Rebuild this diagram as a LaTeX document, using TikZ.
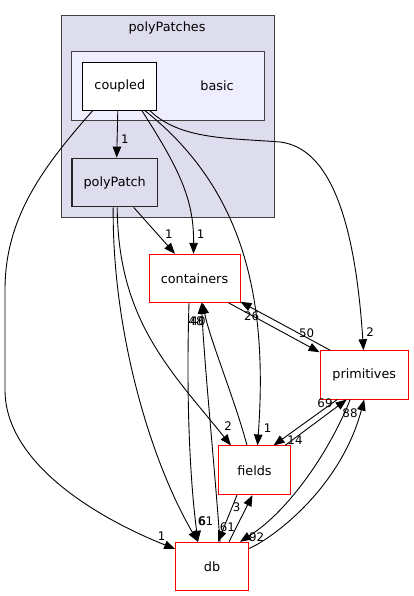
\documentclass[tikz,border=0pt]{standalone}
\usepackage{fontspec}
\setmainfont{DejaVu Sans}
\usetikzlibrary{arrows.meta}
\definecolor{clusterbg}{HTML}{DDDDEE}
\definecolor{basicbg}{HTML}{EEEEFF}
\definecolor{clusterline}{HTML}{404040}
\tikzset{
  nodefont/.style={font=\fontsize{12.8}{14}\selectfont},
  lblfont/.style={font=\fontsize{11.8}{13}\selectfont, inner sep=0pt},
  dirbox/.style={draw, rectangle, inner sep=0pt, nodefont, line width=1pt},
  extbox/.style={dirbox, draw=red, fill=white},
  edge/.style={draw=black, line width=0.9pt, -{Triangle[length=11pt,width=8.5pt]}},
  cluster/.style={draw=clusterline, line width=1pt},
}
\begin{document}
\begin{tikzpicture}[x=1pt,y=-1pt]
\useasboundingbox (0,0) rectangle (413,596);
% clusters
\draw[cluster, fill=clusterbg] (61,16) rectangle (274,217);
\node[nodefont] (lblpp) at (167,27.5) {polyPatches};
\draw[cluster, fill=basicbg] (71.7,51.7) rectangle (264,121);
\node[nodefont] (lblbasic) at (217,85.7) {basic};
% nodes
\node[dirbox, fill=white, draw=black, minimum width=73.7pt, minimum height=47.7pt] (coupled) at (119.8,86.2) {coupled};
\node[dirbox, fill=clusterbg, draw=black!85, line width=1.4pt, minimum width=85.3pt, minimum height=48.4pt] (polyPatch) at (114.7,182.5) {polyPatch};
\node[extbox, minimum width=91pt, minimum height=48pt] (containers) at (194.5,278.3) {containers};
\node[extbox, minimum width=88.3pt, minimum height=48.3pt] (primitives) at (364.2,374.9) {primitives};
\node[extbox, minimum width=72.4pt, minimum height=48.7pt] (fields) at (254.5,470.3) {fields};
\node[extbox, minimum width=72.6pt, minimum height=48.4pt] (db) at (212,566.5) {db};
% edges
\draw[edge] ([xshift=-2pt]coupled.south) -- ([xshift=2pt]polyPatch.north);
\draw[edge] ([xshift=-27pt]coupled.south) .. controls (40,170) and (5,220) .. (5,290) -- (5,390) .. controls (5,460) and (90,515) .. ([yshift=17.5pt]db.west);
\draw[edge] ([xshift=22pt]coupled.south) .. controls (180,170) and (194,200) .. ([xshift=-1pt]containers.north);
\draw[edge] ([xshift=25pt]coupled.south) .. controls (245,190) and (268,300) .. ([xshift=3pt]fields.north);
\draw[edge] ([xshift=30pt]coupled.south) .. controls (180,140) and (230,138) .. (280,142) .. controls (330,148) and (355,220) .. ([xshift=-0.7pt]primitives.north);
\draw[edge] ([xshift=19pt]polyPatch.south) -- ([xshift=-19.5pt]containers.north);
\draw[edge] ([xshift=-1.5pt]polyPatch.south) .. controls (112,330) and (150,460) .. ([xshift=-14pt]db.north);
\draw[edge] ([xshift=2.5pt]polyPatch.south) .. controls (118,320) and (170,370) .. ([xshift=-23.5pt]fields.north);
\draw[edge] ([xshift=-5.5pt]containers.south) .. controls (186,400) and (190,480) .. ([xshift=-14pt]db.north);
\draw[edge] ([xshift=8pt]db.north) .. controls (214,460) and (204,360) .. ([xshift=7pt]containers.south);
\draw[edge] ([xshift=-7.5pt]fields.north) .. controls (235,400) and (210,340) .. ([xshift=8pt]containers.south);
\draw[edge] ([xshift=34pt]containers.south) -- ([yshift=-2pt]primitives.north west);
\draw[edge] ([xshift=-34pt]primitives.north) -- ([yshift=1pt]containers.south east);
\draw[edge] ([xshift=30.5pt]fields.north) -- ([xshift=-17.5pt]primitives.south);
\draw[edge] ([xshift=-27pt]primitives.south) -- ([xshift=19pt]fields.north);
\draw[edge] ([xshift=-17.5pt]fields.south) -- ([xshift=6pt]db.north);
\draw[edge] ([xshift=17pt]db.north) -- ([xshift=-2pt]fields.south);
\draw[edge] ([yshift=18pt]db.east) .. controls (270,540) and (340,490) .. (primitives.south);
\draw[edge] ([xshift=-14pt]primitives.south) .. controls (330,450) and (290,510) .. ([xshift=28pt]db.north);
% edge labels
\node[lblfont] (l1) at (125,139) {1};
\node[lblfont] (l2) at (161.7,536) {1};
\node[lblfont] (l3) at (200.7,234) {1};
\node[lblfont] (l4) at (267.7,428) {1};
\node[lblfont] (l5) at (370,332) {2};
\node[lblfont] (l6) at (169,234) {1};
\node[lblfont] (l7) at (202.5,521) {6};
\node[lblfont] (l8) at (205.5,521) {61};
\node[lblfont] (l9) at (228,426) {2};
\node[lblfont] (l10) at (196,321) {48};
\node[lblfont] (l11) at (198,321) {40};
\node[lblfont] (l12) at (306.7,333) {50};
\node[lblfont] (l13) at (251.7,316) {26};
\node[lblfont] (l14) at (325,403) {69};
\node[lblfont] (l15) at (295,440) {14};
\node[lblfont] (l16) at (227.3,526.7) {61};
\node[lblfont] (l17) at (236.7,507.3) {3};
\node[lblfont] (l18) at (350,412.7) {88};
\node[lblfont] (l19) at (256.7,537.3) {92};
\end{tikzpicture}
\end{document}
